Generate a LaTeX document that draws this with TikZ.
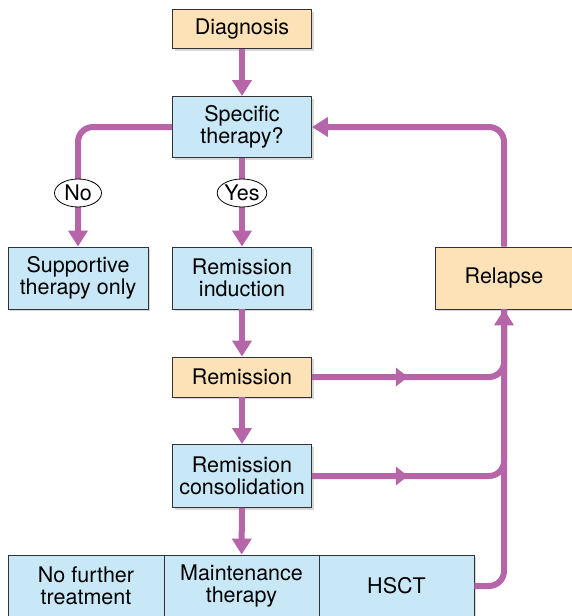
\documentclass[tikz,border=0pt]{standalone}
\usepackage{fontspec}
\setmainfont{TeX Gyre Heros}
\usepackage{xcolor}
\usetikzlibrary{arrows.meta,positioning,calc,shapes.geometric,shadows}
\definecolor{boxblue}{RGB}{200,232,247}
\definecolor{boxorange}{RGB}{253,226,184}
\definecolor{flowpurple}{RGB}{181,101,168}
\newcommand{\boxfont}{\fontsize{21.5}{21.5}\selectfont}
\tikzset{
  stepbox/.style={draw=black!80,line width=0.9pt,align=center,font=\boxfont,
    inner sep=0pt,drop shadow={shadow xshift=2pt,shadow yshift=-2pt,fill=black!30,opacity=0.5}},
  bluebox/.style={stepbox,fill=boxblue},
  orangebox/.style={stepbox,fill=boxorange},
  answer/.style={ellipse,draw=black,line width=0.8pt,fill=white,font=\boxfont,
    inner sep=0pt,minimum width=47pt,minimum height=28pt},
  flow/.style={draw=flowpurple,line width=6pt,rounded corners=15pt},
  tip/.style={-{Triangle[width=19pt,length=16pt]}},
  midtip/.style={-{Triangle[width=18pt,length=12pt]}}
}
\begin{document}
\begin{tikzpicture}[x=1pt,y=-1pt]
\useasboundingbox (0,0) rectangle (572,616);
\node[orangebox,minimum width=139pt,minimum height=39pt] (diag) at (242,29) {Diagnosis};
\node[bluebox,minimum width=139pt,minimum height=61pt] (spec) at (242,127) {Specific\\therapy?};
\node[bluebox,minimum width=140pt,minimum height=62pt] (supp) at (78,278) {Supportive\\therapy only};
\node[bluebox,minimum width=139pt,minimum height=62pt] (induc) at (242,278) {Remission\\induction};
\node[orangebox,minimum width=138pt,minimum height=62pt] (relapse) at (504,278) {Relapse};
\node[orangebox,minimum width=139pt,minimum height=40pt] (remis) at (242,377) {Remission};
\node[bluebox,minimum width=139pt,minimum height=63pt] (consol) at (242,476) {Remission\\consolidation};
\node[bluebox,minimum width=156pt,minimum height=62pt] (nofurther) at (86,586) {No further\\treatment};
\node[bluebox,minimum width=155pt,minimum height=62pt] (maint) at (241.5,586) {Maintenance\\therapy};
\node[bluebox,minimum width=155pt,minimum height=62pt] (hsct) at (396.5,586) {HSCT};

\draw[flow,tip] (diag) -- (spec);
\draw[flow,tip] (spec.west) -| (supp.north);
\draw[flow,tip] (spec) -- (induc);
\draw[flow,tip] (induc) -- (remis);
\draw[flow,tip] (remis) -- (consol);
\draw[flow,tip] (consol) -- (maint);
\draw[flow,tip] (relapse.north) |- (spec.east);
\draw[flow,tip] (hsct.east) -| (relapse.south);
\draw[flow] (remis.east) -| (relapse.south);
\draw[flow] (consol.east) -| (relapse.south);
\coordinate (m1) at ($(remis.east)!0.5!(remis.east -| relapse.south)$);
\coordinate (m2) at ($(consol.east)!0.5!(consol.east -| relapse.south)$);
\draw[flow,midtip] (remis.east) -- (m1);
\draw[flow,midtip] (consol.east) -- (m2);

\node[answer] (no) at (78,193) {No};
\node[answer] (yes) at (242,193) {Yes};
\end{tikzpicture}
\end{document}
